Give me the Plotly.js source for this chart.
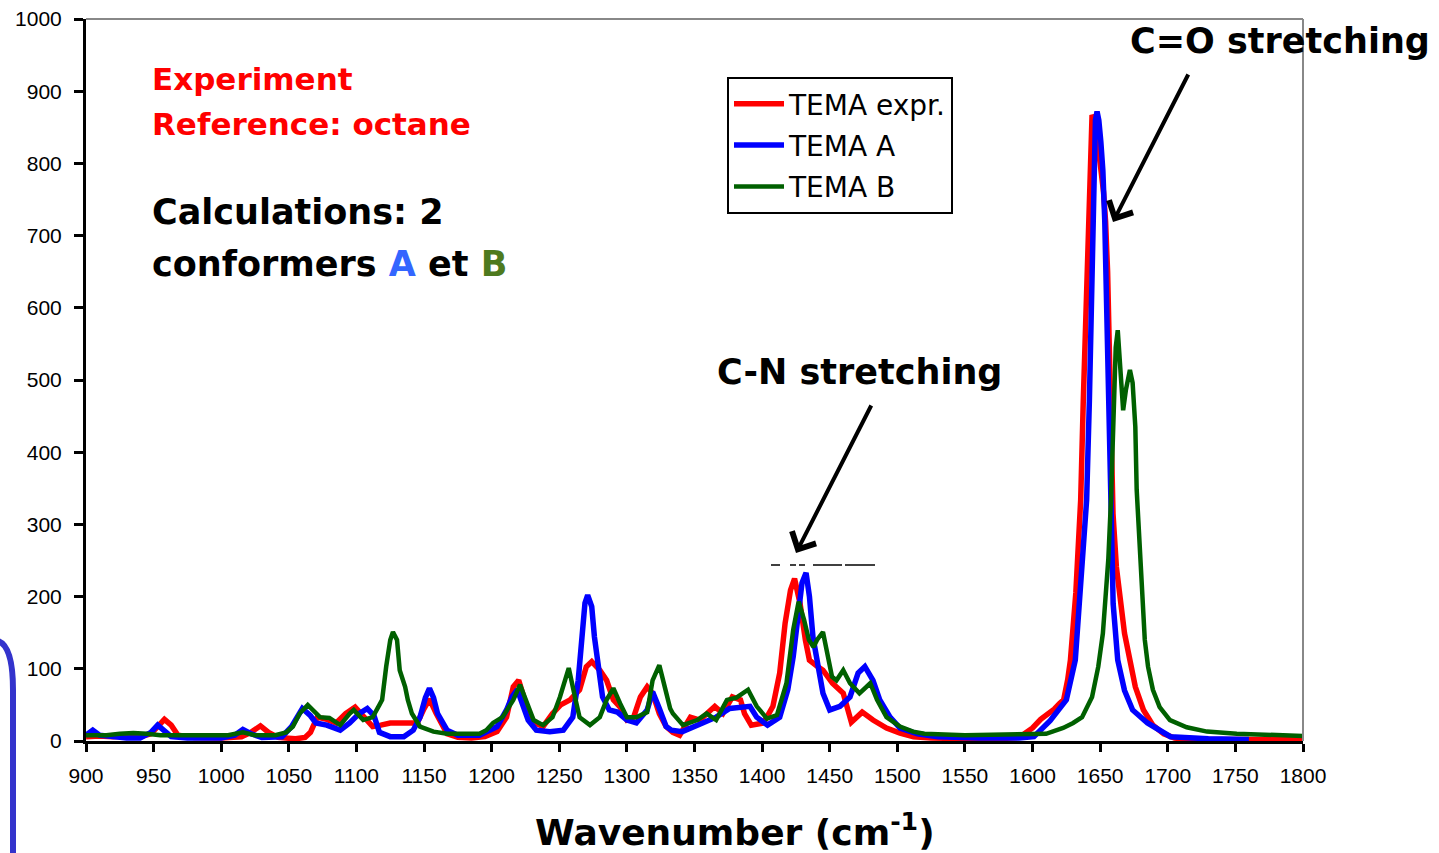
<!DOCTYPE html>
<html><head><meta charset="utf-8">
<script src="https://cdn.plot.ly/plotly-3.0.1.min.js"></script>
<style>html,body{margin:0;padding:0;background:#fff;} #chart{width:1439px;height:853px;}</style>
</head><body><div id="chart"></div>
<script>
// ---- data (wavenumber, intensity) ----
const seriesNames = ["TEMA expr.", "TEMA A", "TEMA B"];

const expr_x = [900,910,920,930,940,948,953,958,963,968,980,1000,1015,1022,1029,1035,1042,1055,1062,1066,1071,1078,1085,1092,1099,1105,1112,1118,1125,1135,1145,1150,1154,1159,1167,1175,1185,1195,1204,1211,1216,1220,1226,1231,1238,1245,1251,1258,1265,1270,1274,1280,1285,1290,1295,1300,1305,1310,1315,1319,1324,1329,1334,1339,1347,1354,1365,1371,1378,1384,1387,1392,1401,1408,1413,1417,1421,1424,1428,1432,1435,1441,1445,1452,1460,1466,1474,1482,1492,1502,1512,1525,1550,1575,1590,1600,1606,1612,1616,1620,1623,1626,1628,1632,1635.6,1637.5,1640,1642.6,1644,1645.5,1647,1650,1652.5,1654,1655.5,1656.7,1657.5,1659.5,1662,1664.6,1668,1672,1676,1682,1689,1697,1705,1720,1760,1800];
const expr_y = [6,7,6,7,6,10,20,30,22,8,5,4,6,12,21,12,5,3,5,12,33,30,25,38,47,35,20,22,25,25,25,45,58,38,10,5,4,6,13,33,75,84,47,26,20,38,50,57,71,103,110,98,84,57,47,29,33,61,75,66,38,20,12,8,33,29,48,38,61,57,38,22,25,48,94,163,209,225,191,140,112,103,98,80,66,26,40,29,18,11,6,4,3,3,5,18,30,38,44,52,57,85,112,205,334,470,610,802,867,862,845,800,760,720,650,540,430,315,241,195,149,112,75,43,22,10,4,2,2,2];

const a_x = [900,905,910,920,930,940,948,953,958,963,975,1000,1010,1016,1022,1030,1045,1052,1060,1066,1070,1078,1088,1095,1102,1108,1113,1117,1125,1135,1142,1147,1151,1154,1157,1160,1167,1175,1191,1204,1211,1215,1219,1223,1227,1233,1243,1253,1260,1264,1267,1269,1271,1274,1276,1279,1282,1287,1293,1300,1307,1315,1319,1324,1329,1333,1341,1356,1366,1376,1386,1391,1396,1404,1413,1419,1423,1427,1429.5,1432.5,1435,1437.6,1441,1445,1450,1457.6,1465,1471,1476,1482,1487,1494.6,1502,1515,1530,1560,1590,1601,1613,1625,1631.6,1635,1637.5,1640,1642,1643.7,1645,1646.5,1647.7,1649,1650.5,1652,1653.4,1654.5,1655.5,1656.6,1658,1659.6,1661.5,1663,1668,1674,1685,1702,1730,1760];
const a_y = [8,15,8,6,4,4,12,22,15,6,4,4,8,16,10,5,6,20,45,35,25,22,15,25,38,45,35,12,6,6,15,33,60,73,60,38,15,8,8,20,43,61,71,52,29,15,13,15,33,84,144,191,202,186,144,98,61,43,40,29,25,43,68,45,20,15,13,25,33,45,48,48,33,22,33,71,117,186,219,233,200,144,103,66,43,48,61,94,103,84,57,33,18,10,6,4,4,6,28,57,112,205,270,334,470,610,800,860,872,860,830,790,720,640,520,440,330,190,140,112,70,43,25,6,3,2];

const b_x = [900,915,925,935,945,955,970,990,1005,1016,1025,1040,1048,1053,1058,1064,1070,1073,1080,1088,1095,1098,1105,1112,1117,1119,1122,1125,1127,1130,1132,1136,1138,1141,1147,1157,1167,1191,1196,1201,1208,1216,1221,1226,1231,1238,1245,1250.5,1257,1261.6,1265,1272.7,1280,1285,1290,1295,1300,1307,1315,1319,1324,1328,1332,1334,1341.5,1352,1359,1366,1374,1381,1389.6,1396,1403.6,1411,1418,1423,1427,1431,1434.6,1438,1440.6,1445,1448,1451.7,1455,1460,1465,1472,1480,1485,1492,1502,1511.6,1520,1550,1600,1610,1622.6,1630,1636.6,1644,1648.6,1652,1654,1656,1658,1659.5,1660.5,1661.5,1663,1664.6,1666,1667,1669,1672,1674,1676,1677,1679,1681,1683,1685.4,1689,1694,1701.6,1714,1729,1751,1775,1800];
const b_y = [8,8,10,11,10,8,8,8,8,12,8,8,12,20,38,50,38,33,32,22,38,43,29,33,50,57,103,140,151,140,98,75,57,38,20,13,10,10,15,25,33,57,78,52,29,22,33,61,101,61,33,22,33,57,73,52,33,33,40,84,105,75,45,38,22,29,38,29,57,60,71,48,31,36,80,154,193,168,140,130,140,151,126,89,84,98,80,66,80,57,33,20,13,10,8,9,10,18,25,33,61,103,149,200,251,334,417,486,545,569,528,490,458,486,514,496,435,348,269,195,140,103,71,47,29,19,13,10,8,7];

const xTickStart = 900, xTickStep = 50, yTickStep = 100;
const colors = ["#ff0000", "#0000ff", "#006000"];

// ---- layout geometry ----
const W = 1439, H = 853, ML = 86, MR = 136, MT = 19, MB = 112;
const PW = W - ML - MR, PH = H - MT - MB;
const px = x => (x - ML) / PW;
const py = y => (H - MB - y) / PH;

const FONT = "DejaVu Sans";
const traces = [
  {x: expr_x, y: expr_y, name: seriesNames[0], legendgroup: "g1", line: {color: colors[0], width: 5.5}},
  {x: a_x, y: a_y, name: seriesNames[1], legendgroup: "g2", line: {color: colors[1], width: 5.5}},
  {x: b_x, y: b_y, name: seriesNames[2], legendgroup: "g3", line: {color: colors[2], width: 4.5}}
].map(t => Object.assign({type: "scatter", mode: "lines", hoverinfo: "skip"}, t));

function txt(text, x, y, size, color, anchor) {
  return {text: text, xref: "paper", yref: "paper", x: px(x), y: py(y), xanchor: anchor || "left", yanchor: "middle",
    showarrow: false, font: {family: FONT, size: size, color: color || "#000", weight: "bold"}};
}
function arrow(hx, hy, tx, ty) {
  return {text: "", xref: "paper", yref: "paper", x: px(hx), y: py(hy), ax: tx - hx, ay: ty - hy,
    showarrow: true, arrowhead: 4, arrowsize: 1.3, arrowwidth: 4, arrowcolor: "#000"};
}

const annotations = [
  txt("Experiment", 150, 79, 31, "#ff0000"),
  txt("Reference: octane", 150, 124, 31, "#ff0000"),
  txt("Calculations: 2", 150, 212, 35),
  txt('conformers <span style="color:#3366ff">A</span> et <span style="color:#4e7a1e">B</span>', 150, 264, 35),
  txt("C-N stretching", 715, 372, 35),
  txt("C=O stretching", 1128, 41, 35),
  txt("Wavenumber (cm<sup>-1</sup>)", 735, 830, 36, "#000", "center"),
  arrow(796, 553, 872, 404),
  arrow(1113, 222, 1189, 73)
];

const seg = (x0, x1, y) => ({type: "line", xref: "paper", yref: "paper", x0: px(x0), x1: px(x1), y0: py(y), y1: py(y), line: {color: "#000", width: 1.5}});
const shapes = [
  {type: "line", xref: "paper", yref: "paper", x0: 0, x1: 1, y0: 1, y1: 1, line: {color: "#888", width: 2}},
  {type: "line", xref: "paper", yref: "paper", x0: 1, x1: 1, y0: 0, y1: 1, line: {color: "#888", width: 2}},
  seg(771, 780, 565), seg(790, 796, 565), seg(799, 805, 565), seg(813, 842, 565), seg(845, 875, 565),
  {type: "path", xref: "paper", yref: "paper",
   path: `M ${px(-2)},${py(641)} Q ${px(13)},${py(646)} ${px(13)},${py(690)} L ${px(13)},${py(870)}`,
   line: {color: "#3333cc", width: 6}}
];

const axisCommon = {showgrid: false, zeroline: false, showline: true, linecolor: "#000", linewidth: 3,
  ticks: "outside", tickcolor: "#000", tickwidth: 3, tickfont: {family: "Liberation Sans", size: 21, color: "#000"}};

const layout = {
  width: W, height: H, margin: {l: ML, r: MR, t: MT, b: MB},
  paper_bgcolor: "#fff", plot_bgcolor: "#fff",
  showlegend: true,
  legend: {x: px(727), y: py(77), xanchor: "left", yanchor: "top", bgcolor: "#fff",
    bordercolor: "#000", borderwidth: 2, traceorder: "grouped", tracegroupgap: 2, itemwidth: 50,
    font: {family: FONT, size: 28, color: "#000"}},
  xaxis: Object.assign({}, axisCommon, {range: [900, 1800], tick0: xTickStart, dtick: xTickStep, ticklen: 8, ticklabelstandoff: 6}),
  yaxis: Object.assign({}, axisCommon, {range: [0, 1000], tick0: 0, dtick: yTickStep, ticklen: 9, ticklabelstandoff: 8}),
  annotations: annotations,
  shapes: shapes
};

Plotly.newPlot("chart", traces, layout, {displayModeBar: false, staticPlot: true});
</script>
</body></html>
